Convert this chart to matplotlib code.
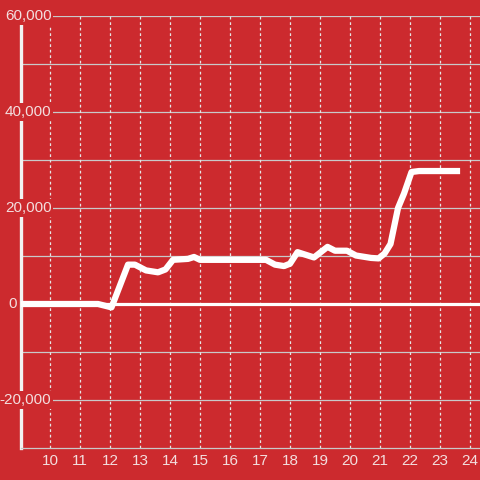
import matplotlib
matplotlib.use('Agg')
import matplotlib.pyplot as plt

plt.rcParams['font.family'] = ['Liberation Sans', 'DejaVu Sans']

# data
hours = [9.03, 11.5, 11.6, 12.05, 12.6, 12.83, 13.2, 13.6, 13.85, 14.1, 14.6, 14.8, 15.0,
         17.2, 17.5, 17.8, 18.0, 18.25, 18.5, 18.8, 19.25, 19.5, 19.9, 20.2, 20.7, 20.95,
         21.15, 21.35, 21.6, 21.8, 22.05, 22.3, 23.67]
values = [0, 0, 0, -700, 8200, 8200, 7000, 6600, 7200, 9200, 9400, 9800, 9200,
          9200, 8200, 7900, 8400, 10800, 10300, 9700, 11900, 11100, 11100, 10100, 9600, 9500,
          10500, 12500, 20000, 23000, 27500, 27700, 27700]
xticks = list(range(10, 25))
yticks = [60000, 40000, 20000, 0, -20000]
ylabels = ['60,000', '40,000', '20,000', '0', '-20,000']

bg = '#cc2a2e'
txt = '#f3dede'

fig = plt.figure(figsize=(4.8, 4.8), dpi=100, facecolor=bg)
ax = fig.add_axes([21/480, 32/480, 459/480, 432/480], facecolor=bg)
ax.set_xlim(9.033, 24.333)
ax.set_ylim(-30000, 60000)

# grid
for y in range(-20000, 60001, 10000):
    if y != 0:
        ax.axhline(y, color='#c9c9c9', lw=0.9, zorder=1)
for x in xticks:
    ax.axvline(x, color='#e6e6e6', lw=0.9, ls=(0, (2.2, 2.2)), zorder=1)
ax.axhline(0, color='white', lw=2.3, zorder=2)

for s in ['top', 'right']:
    ax.spines[s].set_visible(False)
ax.spines['left'].set_color('#f2f2f2')
ax.spines['left'].set_linewidth(2.4)
ax.spines['bottom'].set_color('#c9c9c9')
ax.spines['bottom'].set_linewidth(0.9)
ax.set_xticks([])
ax.set_yticks([])

ax.plot(hours, values, color='white', lw=4.5, solid_joinstyle='round',
        solid_capstyle='butt', zorder=3)

for x in xticks:
    ax.text(x, -0.03, str(x), transform=ax.get_xaxis_transform(), ha='center', va='center',
            color=txt, fontsize=11, clip_on=False)

trans = ax.get_yaxis_transform()
for y, lab in zip(yticks, ylabels):
    xp = (51.5 - 21) / 459 if y != 0 else (16.5 - 21) / 459
    ax.text(xp, y, lab, transform=trans, ha='right', va='center', color=txt, fontsize=11,
            clip_on=False, zorder=5,
            bbox=dict(boxstyle='square,pad=0.12', fc=bg, ec='none'))

fig.savefig('out.png', dpi=100, facecolor=bg)
